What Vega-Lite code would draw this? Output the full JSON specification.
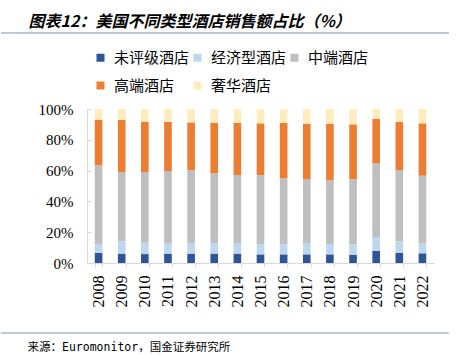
{
  "$schema": "https://vega.github.io/schema/vega-lite/v6.json",
  "padding": {"left": 0, "top": 14, "right": 10, "bottom": 0},
  "background": "white",
  "spacing": 10,
  "config": {"view": {"stroke": null}},
  "title": {"text": "图表12：美国不同类型酒店销售额占比（%）", "anchor": "start", "frame": "bounds", "dx": 28, "offset": 2, "font": "Noto Sans CJK SC", "fontSize": 16, "fontWeight": "bold", "fontStyle": "italic", "color": "#000000"},
  "resolve": {"legend": {"color": "independent"}, "scale": {"color": "independent", "y": "independent"}},
  "vconcat": [
    {
      "width": 448,
      "height": 1,
      "data": {"values": [{"p": 0}]},
      "mark": {"type": "rule", "color": "#7F97AD", "strokeWidth": 1},
      "encoding": {"y": {"field": "p", "type": "quantitative", "scale": {"domain": [0, 1]}, "axis": null}}
    },
    {
      "spacing": 0,
      "resolve": {"legend": {"color": "independent"}, "scale": {"color": "independent", "y": "independent", "x": "independent"}},
      "hconcat": [
        {
          "width": 1,
          "height": 154,
          "data": {"values": []},
          "mark": "point",
          "encoding": {}
        },
        {
          "width": 347,
          "height": 154,
          "data": {"values": [
            {"year": "2008", "type": "未评级酒店", "v": 6.5}, {"year": "2008", "type": "经济型酒店", "v": 5.8}, {"year": "2008", "type": "中端酒店", "v": 51.3}, {"year": "2008", "type": "高端酒店", "v": 29.5}, {"year": "2008", "type": "奢华酒店", "v": 6.9},
            {"year": "2009", "type": "未评级酒店", "v": 6.1}, {"year": "2009", "type": "经济型酒店", "v": 8.0}, {"year": "2009", "type": "中端酒店", "v": 45.0}, {"year": "2009", "type": "高端酒店", "v": 33.8}, {"year": "2009", "type": "奢华酒店", "v": 7.1},
            {"year": "2010", "type": "未评级酒店", "v": 5.8}, {"year": "2010", "type": "经济型酒店", "v": 7.4}, {"year": "2010", "type": "中端酒店", "v": 45.9}, {"year": "2010", "type": "高端酒店", "v": 32.7}, {"year": "2010", "type": "奢华酒店", "v": 8.2},
            {"year": "2011", "type": "未评级酒店", "v": 6.1}, {"year": "2011", "type": "经济型酒店", "v": 6.9}, {"year": "2011", "type": "中端酒店", "v": 46.7}, {"year": "2011", "type": "高端酒店", "v": 31.9}, {"year": "2011", "type": "奢华酒店", "v": 8.4},
            {"year": "2012", "type": "未评级酒店", "v": 6.1}, {"year": "2012", "type": "经济型酒店", "v": 6.9}, {"year": "2012", "type": "中端酒店", "v": 47.2}, {"year": "2012", "type": "高端酒店", "v": 31.1}, {"year": "2012", "type": "奢华酒店", "v": 8.7},
            {"year": "2013", "type": "未评级酒店", "v": 6.1}, {"year": "2013", "type": "经济型酒店", "v": 6.9}, {"year": "2013", "type": "中端酒店", "v": 45.2}, {"year": "2013", "type": "高端酒店", "v": 32.7}, {"year": "2013", "type": "奢华酒店", "v": 9.1},
            {"year": "2014", "type": "未评级酒店", "v": 6.1}, {"year": "2014", "type": "经济型酒店", "v": 6.9}, {"year": "2014", "type": "中端酒店", "v": 44.1}, {"year": "2014", "type": "高端酒店", "v": 33.8}, {"year": "2014", "type": "奢华酒店", "v": 9.1},
            {"year": "2015", "type": "未评级酒店", "v": 5.6}, {"year": "2015", "type": "经济型酒店", "v": 6.7}, {"year": "2015", "type": "中端酒店", "v": 44.8}, {"year": "2015", "type": "高端酒店", "v": 33.6}, {"year": "2015", "type": "奢华酒店", "v": 9.3},
            {"year": "2016", "type": "未评级酒店", "v": 5.6}, {"year": "2016", "type": "经济型酒店", "v": 6.7}, {"year": "2016", "type": "中端酒店", "v": 42.7}, {"year": "2016", "type": "高端酒店", "v": 35.9}, {"year": "2016", "type": "奢华酒店", "v": 9.1},
            {"year": "2017", "type": "未评级酒店", "v": 5.6}, {"year": "2017", "type": "经济型酒店", "v": 7.0}, {"year": "2017", "type": "中端酒店", "v": 41.7}, {"year": "2017", "type": "高端酒店", "v": 36.0}, {"year": "2017", "type": "奢华酒店", "v": 9.7},
            {"year": "2018", "type": "未评级酒店", "v": 5.6}, {"year": "2018", "type": "经济型酒店", "v": 6.7}, {"year": "2018", "type": "中端酒店", "v": 41.4}, {"year": "2018", "type": "高端酒店", "v": 36.6}, {"year": "2018", "type": "奢华酒店", "v": 9.7},
            {"year": "2019", "type": "未评级酒店", "v": 5.4}, {"year": "2019", "type": "经济型酒店", "v": 6.7}, {"year": "2019", "type": "中端酒店", "v": 42.4}, {"year": "2019", "type": "高端酒店", "v": 35.5}, {"year": "2019", "type": "奢华酒店", "v": 10.0},
            {"year": "2020", "type": "未评级酒店", "v": 7.8}, {"year": "2020", "type": "经济型酒店", "v": 9.1}, {"year": "2020", "type": "中端酒店", "v": 47.8}, {"year": "2020", "type": "高端酒店", "v": 28.8}, {"year": "2020", "type": "奢华酒店", "v": 6.5},
            {"year": "2021", "type": "未评级酒店", "v": 6.5}, {"year": "2021", "type": "经济型酒店", "v": 7.6}, {"year": "2021", "type": "中端酒店", "v": 46.3}, {"year": "2021", "type": "高端酒店", "v": 31.2}, {"year": "2021", "type": "奢华酒店", "v": 8.4},
            {"year": "2022", "type": "未评级酒店", "v": 6.3}, {"year": "2022", "type": "经济型酒店", "v": 6.5}, {"year": "2022", "type": "中端酒店", "v": 43.9}, {"year": "2022", "type": "高端酒店", "v": 34.0}, {"year": "2022", "type": "奢华酒店", "v": 9.3}
          ]},
          "transform": [
            {"calculate": "indexof(['未评级酒店', '经济型酒店', '中端酒店', '高端酒店', '奢华酒店'], datum.type)", "as": "stackOrder"}
          ],
          "mark": {"type": "bar"},
          "encoding": {
            "x": {
              "field": "year", "type": "ordinal", "title": null,
              "scale": {"paddingInner": 0.67, "paddingOuter": 0.335},
              "axis": {"labelAngle": 270, "labelFont": "Liberation Serif", "labelFontSize": 16, "labelColor": "#000000", "labelPadding": 8, "domainColor": "#D9D9D9", "tickColor": "#D9D9D9", "tickSize": 4, "tickBand": "extent", "minExtent": 59}
            },
            "y": {
              "field": "v", "type": "quantitative", "stack": "zero", "title": null,
              "scale": {"domain": [0, 100], "nice": false},
              "axis": {"values": [0, 20, 40, 60, 80, 100], "labelExpr": "datum.value + '%'", "labelFont": "Liberation Serif", "labelFontSize": 15, "labelColor": "#000000", "grid": false, "domainColor": "#D9D9D9", "tickColor": "#D9D9D9", "tickSize": -4, "labelPadding": 18, "minExtent": 85}
            },
            "order": {"field": "stackOrder", "type": "quantitative"},
            "color": {
              "field": "type", "type": "nominal",
              "sort": ["未评级酒店", "经济型酒店", "中端酒店", "高端酒店", "奢华酒店"],
              "scale": {"domain": ["未评级酒店", "经济型酒店", "中端酒店", "高端酒店", "奢华酒店"], "range": ["#2F5597", "#BDD7EE", "#BFBFBF", "#ED7D31", "#FFECBE"]},
              "legend": {"orient": "top", "direction": "horizontal", "columns": 3, "title": null, "padding": 6, "symbolType": "square", "symbolSize": 64, "symbolStrokeWidth": 0, "labelFont": "Noto Sans CJK SC", "labelFontSize": 15, "labelColor": "#000000", "labelOffset": 6, "columnPadding": -1, "rowPadding": 12, "offset": 9}
            }
          }
        }
      ]
    },
    {
      "width": 448,
      "height": 1,
      "title": {"text": "来源：Euromonitor，国金证券研究所", "orient": "bottom", "anchor": "start", "frame": "bounds", "dx": 27, "offset": 8, "font": "DejaVu Sans Mono, Noto Sans CJK SC", "fontSize": 11.5, "fontWeight": "normal", "color": "#000000"},
      "data": {"values": [{"p": 0}]},
      "mark": {"type": "rule", "color": "#7F97AD", "strokeWidth": 1},
      "encoding": {"y": {"field": "p", "type": "quantitative", "scale": {"domain": [0, 1]}, "axis": null}}
    }
  ]
}
